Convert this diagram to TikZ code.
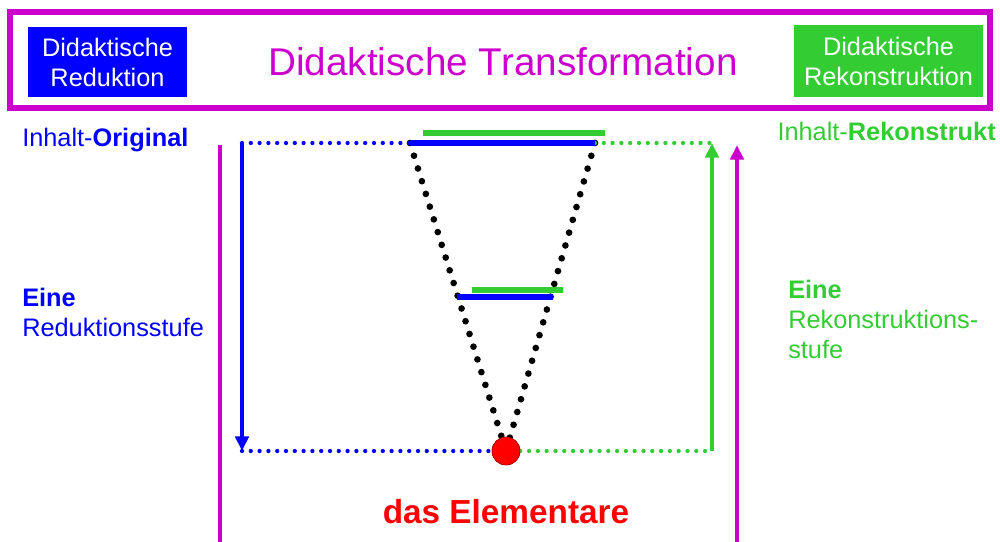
\documentclass[tikz,border=0pt]{standalone}
\usepackage{fontspec}
\setmainfont{Liberation Sans}
\usetikzlibrary{positioning,arrows.meta}
\definecolor{TrafoMagenta}{HTML}{CC00CC}
\definecolor{ReduktionBlue}{HTML}{0000FF}
\definecolor{RekonGreen}{HTML}{33CC33}
\definecolor{ElementRed}{HTML}{FF0000}

\tikzset{
  stufebox/.style={
    fill=#1,
    text=white,
    inner sep=0pt,
    align=center,
    font=\fontsize{19}{22.5}\selectfont
  },
  seitentext/.style={
    text=#1,
    inner sep=0pt,
    align=left,
    font=\fontsize{19}{22.5}\selectfont
  },
  punktlinie/.style={
    draw=#1,
    line width=3.2pt,
    line cap=round,
    dash pattern=on 0pt off 6.6pt
  },
  trichter/.style={
    draw=black,
    line width=5pt,
    line cap=round,
    dash pattern=on 0pt off 10pt
  },
  stufenpfeil/.style={
    draw=#1,
    line width=3pt,
    -{Triangle[length=11pt,width=10pt]}
  }
}

\begin{document}
\begin{tikzpicture}[x=0.75pt,y=-0.75pt]
  \useasboundingbox (0,0) rectangle (1000,542);

  % Rahmen oben
  \node[
    draw=TrafoMagenta,
    line width=3.8pt,
    minimum width=735pt,
    minimum height=72pt,
    inner sep=0pt
  ] (rahmen) at (500,60) {};
  \node[text=TrafoMagenta, font=\fontsize{29}{34}\selectfont] (titel) at (503,62) {Didaktische Transformation};
  \node[stufebox=ReduktionBlue, minimum width=119pt, minimum height=52.5pt] (reduktion) at (107.5,62) {Didaktische\\Reduktion};
  \node[stufebox=RekonGreen, minimum width=142pt, minimum height=54pt] (rekonstruktion) at (888.5,61) {Didaktische\\Rekonstruktion};

  % Beschriftungen links und rechts
  \node[seitentext=ReduktionBlue, anchor=west] (original) at (22,140) {Inhalt-\textbf{Original}};
  \node[seitentext=RekonGreen, anchor=east] (rekonstrukt) at (996,131) {Inhalt-\textbf{Rekonstrukt}};
  \node[seitentext=ReduktionBlue, anchor=north west] (redstufe) at (22,288) {\textbf{Eine}\\Reduktionsstufe};
  \node[seitentext=RekonGreen, anchor=north west] (rekstufe) at (788,280) {\textbf{Eine}\\Rekonstruktions-\\stufe};

  % Eckpunkte
  \coordinate (origL) at (242,143);
  \coordinate (obenA) at (410,143);
  \coordinate (obenB) at (595,143);
  \coordinate (rekR) at (712,143);
  \coordinate (elemL) at (242,451);
  \coordinate (elemR) at (712,451);
  \coordinate (gruenA) at (423,133);
  \coordinate (gruenB) at (605,133);
  \coordinate (mitteA) at (457,297);
  \coordinate (mitteB) at (553,297);
  \coordinate (mgruenA) at (472,290);
  \coordinate (mgruenB) at (563,290);
  \coordinate (magL1) at (220,145);
  \coordinate (magL2) at (220,542);
  \coordinate (magR1) at (737,542);
  \coordinate (magR2) at (737,145);

  % magenta Seitenlinien
  \draw[TrafoMagenta, line width=3pt] (magL1) -- (magL2);
  \draw[stufenpfeil=TrafoMagenta] (magR1) -- (magR2);

  % Trichter
  \node[circle, fill=ElementRed, draw=ElementRed!60!black, line width=0.4pt, minimum size=21pt, inner sep=0pt] (element) at (506,451) {};
  \draw[trichter] (obenA) -- (element.center);
  \draw[trichter] (obenB) -- (element.center);

  % Ebenen
  \draw[punktlinie=ReduktionBlue] (origL) -- (obenA);
  \draw[punktlinie=RekonGreen] (obenB) -- (rekR);
  \draw[RekonGreen, line width=3.8pt] (gruenA) -- (gruenB);
  \draw[ReduktionBlue, line width=3.8pt] (obenA) -- (obenB);
  \draw[RekonGreen, line width=3.8pt] (mgruenA) -- (mgruenB);
  \draw[ReduktionBlue, line width=3.8pt] (mitteA) -- (mitteB);
  \draw[stufenpfeil=ReduktionBlue] (origL) -- (elemL);
  \draw[punktlinie=ReduktionBlue] (elemL) -- (element.west);
  \draw[punktlinie=RekonGreen] (element.east) -- (elemR);
  \draw[stufenpfeil=RekonGreen] (elemR) -- (rekR);
  \node[circle, fill=ElementRed, draw=ElementRed!60!black, line width=0.4pt, minimum size=21pt, inner sep=0pt] at (element) {};

  \node[text=ElementRed, font=\bfseries\fontsize{25}{30}\selectfont, below=22pt of element] (elementar) {das Elementare};
\end{tikzpicture}
\end{document}
